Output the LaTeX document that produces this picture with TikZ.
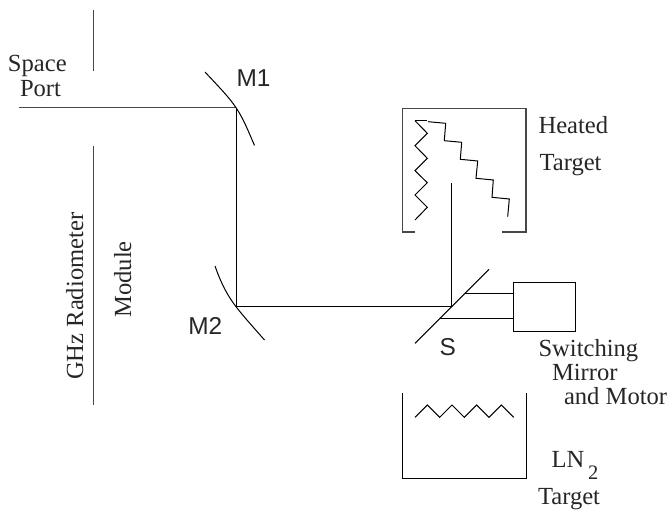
\documentclass[tikz,border=0pt]{standalone}
\usepackage{fontspec}
\setmainfont{Liberation Serif}
\newfontfamily\lsans{Liberation Sans}
\tikzset{
  thick line/.style={draw=black!72,line width=1.5pt},
  beam/.style={draw=black,line width=1pt},
  txt/.style={inner sep=0pt,outer sep=0pt,anchor=base west,font=\fontsize{24.6}{28}\selectfont,text=black!85},
  lab/.style={inner sep=0pt,outer sep=0pt,anchor=base west,font=\lsans\fontsize{24.4}{28}\selectfont,text=black!85},
  rot/.style={txt,rotate=90},
}
\begin{document}
\begin{tikzpicture}[x=1pt,y=-1pt]
\useasboundingbox (0,0) rectangle (667,510);
% key points
\coordinate (portL) at (19,107.7);
\coordinate (m1) at (236,107.7);
\coordinate (m2) at (236,306.7);
\coordinate (s) at (451.7,306.7);
\coordinate (h) at (451.7,183);
% module walls
\draw[thick line] (93.7,10) -- (93.7,71.5);
\draw[thick line] (93.7,146) -- (93.7,405);
% beam
\draw[thick line] (portL) -- (m1);
\draw[beam] (m1) -- (m2) -- (s) -- (h);
% mirrors
\draw[beam] (205,72) .. controls (218,86) and (229,97) .. (m1) .. controls (243,118) and (247,128) .. (254.5,145.5);
\draw[beam] (215,266) .. controls (221,283) and (227,295) .. (m2) .. controls (244,317) and (254,328) .. (264.5,340);
\draw[beam] (415,343.3) -- (489,269.3);
% motor
\node[draw=black,line width=1pt,minimum width=62pt,minimum height=49.3pt,inner sep=0pt,anchor=north west] (motor) at (513.3,281.7) {};
\draw[beam] (465,294) -- (motor.west |- 465,294);
\draw[beam] (440,319) -- (motor.west |- 440,319);
% heated target
\draw[thick line] (415,232) -- (402.7,232) -- (402.7,108.3) -- (526,108.3) -- (526,232) -- (501.7,232);
\draw[beam] (415,120.7) -- (427.3,133.3) -- (415,145.7) -- (427.3,158.3) -- (415,170.7) -- (427.3,182.7) -- (415,195) -- (427.3,207.3) -- (415,220);
\draw[beam] (415,120.7) -- (426.7,120.7);
\draw[beam] (428,121.7) -- (445.7,123.3) -- (444.3,140.7) -- (461.7,142.3) -- (460.3,159.3) -- (477.7,161) -- (476,178.3) -- (493.3,180) -- (492,197.3) -- (509.3,199) -- (507.7,216.7);
% LN2 target
\draw[beam] (402.7,393.3) -- (402.7,479) -- (526,479) -- (526,393.3);
\draw[beam] (415,417.3) -- (427.3,405) -- (439.7,417.3) -- (452,405) -- (464.3,417.3) -- (476.7,405) -- (489,417.3) -- (501.3,405) -- (513.7,417.3);
% labels
\node[txt] (t1) at (8,71.7) {Space};
\node[txt] (t2) at (20,96.7) {Port};
\node[lab] (t3) at (236.6,86.7) {M1};
\node[lab] (t4) at (188.3,335) {M2};
\node[lab] (t5) at (439.7,356) {S};
\node[rot] (t6) at (83,380) {GHz Radiometer};
\node[rot] (t7) at (131,317.7) {Module};
\node[txt] (t8) at (538.5,133.3) {Heated};
\node[txt] (t9) at (539.5,170.7) {Target};
\node[txt] (t10) at (538.5,356.7) {Switching};
\node[txt] (t11) at (552,380.7) {Mirror};
\node[txt] (t12) at (564,405) {and Motor};
\node[txt] (t13) at (551.7,467.3) {LN};
\node[txt,font=\fontsize{20.5}{24}\selectfont] (t14) at (588,479) {2};
\node[txt] (t15) at (538,504) {Target};
\end{tikzpicture}
\end{document}
